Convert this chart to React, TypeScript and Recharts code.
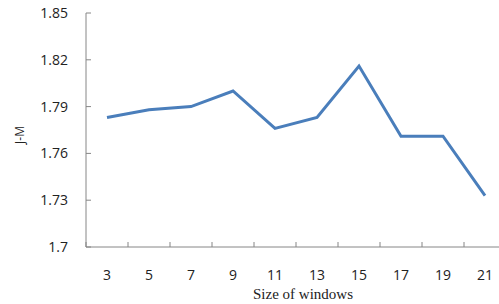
import React from 'react';
import { LineChart, Line, XAxis, YAxis, Label } from 'recharts';

const windowSizes = ['3', '5', '7', '9', '11', '13', '15', '17', '19', '21'];
const jmValues = [1.783, 1.788, 1.790, 1.800, 1.776, 1.783, 1.816, 1.771, 1.771, 1.733];
const yTicks = [1.7, 1.73, 1.76, 1.79, 1.82, 1.85];

const data = windowSizes.map((w, i) => ({ w, jm: jmValues[i] }));

const AXIS = '#868686';
const FONT = '"Open Sans", sans-serif';

const YTick = (props: any) => {
  const { x, y, payload } = props;
  return (
    <g>
      <line x1={x} y1={y} x2={x + 5} y2={y} stroke={AXIS} strokeWidth={1} />
      <text x={x - 18} y={y + 5} textAnchor="end" fontFamily={FONT} fontSize={14} fill="#222">
        {String(payload.value)}
      </text>
    </g>
  );
};

const XTick = (props: any) => {
  const { x, y, payload, index } = props;
  const off = payload && typeof payload.offset === 'number' && payload.offset > 0 ? payload.offset : 21;
  return (
    <g>
      <line x1={x - off} y1={y} x2={x - off} y2={y - 5} stroke={AXIS} strokeWidth={1} />
      {index === windowSizes.length - 1 ? (
        <line x1={x + off} y1={y} x2={x + off} y2={y - 5} stroke={AXIS} strokeWidth={1} />
      ) : null}
      <text x={x} y={y + 33} textAnchor="middle" fontFamily={FONT} fontSize={14} fill="#222">
        {payload.value}
      </text>
    </g>
  );
};

export default function App() {
  return (
    <div style={{ position: 'absolute', left: 0, top: 0, width: 499, height: 304, overflow: 'hidden', background: '#fff' }}>
      <LineChart width={520} height={304} data={data} margin={{ top: 13, right: 14, bottom: 0, left: 0 }}>
        <XAxis
          dataKey="w"
          type="category"
          scale="band"
          height={57}
          stroke={AXIS}
          tickLine={false}
          tickSize={0}
          tickMargin={0}
          tick={<XTick />}
          interval={0}
        >
          <Label
            content={(p: any) => {
              const vb = p.viewBox;
              return (
                <text x={vb.x + vb.width / 2 + 7} y={vb.y + vb.height - 5} textAnchor="middle" fontFamily='"Liberation Serif", serif' fontSize={15} fill="#222">
                  Size of windows
                </text>
              );
            }}
          />
        </XAxis>
        <YAxis
          type="number"
          domain={[1.7, 1.85]}
          ticks={yTicks}
          width={86}
          stroke={AXIS}
          tickLine={false}
          tickSize={0}
          tickMargin={0}
          tick={<YTick />}
          allowDataOverflow
        >
          <Label
            content={(p: any) => {
              const vb = p.viewBox;
              const cy = vb.y + vb.height / 2 + 5;
              return (
                <text x={24} y={cy} transform={`rotate(-90 24 ${cy})`} textAnchor="middle" fontFamily={FONT} fontSize={12} fill="#222">
                  J-M
                </text>
              );
            }}
          />
        </YAxis>
        <Line type="linear" dataKey="jm" stroke="#4a7ebb" strokeWidth={3} dot={false} isAnimationActive={false} />
      </LineChart>
    </div>
  );
}
